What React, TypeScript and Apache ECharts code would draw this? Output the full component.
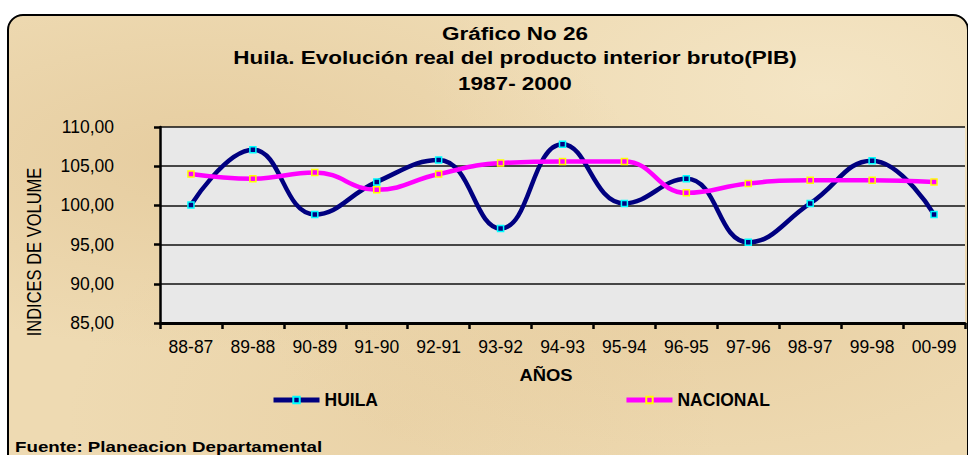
import React, { useEffect, useRef } from "react";
import * as echarts from "echarts";

const categories = ["88-87", "89-88", "90-89", "91-90", "92-91", "93-92", "94-93", "95-94", "96-95", "97-96", "98-97", "99-98", "00-99"];
const huila = [100.05, 107.1, 98.85, 103.0, 105.8, 97.05, 107.8, 100.25, 103.4, 95.3, 100.25, 105.7, 98.85];
const nacional = [104.0, 103.4, 104.2, 102.0, 104.0, 105.4, 105.6, 105.6, 101.6, 102.8, 103.2, 103.2, 103.0];
const seriesNames = ["HUILA", "NACIONAL"];
const yMin = 85;
const yMax = 110;
const yInterval = 5;
const titleLines = ["Gráfico No 26", "Huila. Evolución real del producto interior bruto(PIB)", "1987- 2000"];
const xAxisTitle = "AÑOS";
const yAxisTitle = "INDICES DE VOLUME";
const sourceNote = "Fuente: Planeacion Departamental";

const FONT = "'Liberation Sans', Arial, sans-serif";

export default function App() {
  const ref = useRef<HTMLDivElement>(null);
  useEffect(() => {
    const chart = echarts.init(ref.current!, null, { renderer: "svg", width: 968, height: 455 });
    const titleY = [34, 58, 84];
    chart.setOption({
      animation: false,
      backgroundColor: "transparent",
      textStyle: { fontFamily: FONT },
      grid: {
        left: 160,
        right: 3,
        top: 127,
        bottom: 132,
        show: true,
        backgroundColor: "#e8e8e8",
        borderWidth: 0,
      },
      legend: {
        left: 266,
        top: 386,
        itemWidth: 46,
        itemHeight: 8,
        itemGap: 246,
        data: seriesNames,
        lineStyle: { width: 5 },
        textStyle: { fontFamily: FONT, fontSize: 17.5, fontWeight: "bold", color: "#000" },
      },
      xAxis: {
        type: "category",
        data: categories,
        boundaryGap: true,
        axisLine: { show: true, lineStyle: { color: "#000", width: 3 } },
        axisTick: { show: true, length: 6, lineStyle: { color: "#000", width: 2.5 }, alignWithLabel: false },
        axisLabel: { color: "#000", fontSize: 17.5, fontFamily: FONT, margin: 15, interval: 0 },
        splitLine: { show: false },
      },
      yAxis: {
        type: "value",
        min: yMin,
        max: yMax,
        interval: yInterval,
        axisLine: { show: true, lineStyle: { color: "#000", width: 2.5 } },
        axisTick: { show: true, length: 6, lineStyle: { color: "#000", width: 2.5 } },
        axisLabel: {
          color: "#000",
          fontSize: 17.5,
          fontFamily: FONT,
          margin: 46,
          formatter: (v: number) => v.toFixed(2).replace(".", ","),
        },
        splitLine: { show: true, lineStyle: { color: "#111", width: 1.5 } },
      },
      graphic: [
        ...titleLines.map((t, i) => ({
          type: "text",
          x: 515,
          y: titleY[i],
          scaleX: 1.25,
          style: {
            text: t,
            font: `bold 18px ${FONT}`,
            fill: "#000",
            textAlign: "center",
            textVerticalAlign: "middle",
          },
        })),
        {
          type: "text",
          x: 546,
          y: 375.5,
          scaleX: 1.15,
          style: { text: xAxisTitle, font: `bold 16px ${FONT}`, fill: "#000", textAlign: "center", textVerticalAlign: "middle" },
        },
        {
          type: "text",
          x: 34,
          y: 252,
          rotation: Math.PI / 2,
          scaleY: 1.2,
          style: { text: yAxisTitle, font: `16.5px ${FONT}`, fill: "#000", textAlign: "center", textVerticalAlign: "middle" },
        },
        {
          type: "text",
          x: 15,
          y: 447,
          scaleX: 1.25,
          style: { text: sourceNote, font: `bold 15px ${FONT}`, fill: "#000", textAlign: "left", textVerticalAlign: "middle" },
        },
      ],
      series: [
        {
          name: seriesNames[0],
          type: "line",
          data: huila,
          smooth: 0.45,
          symbol: "rect",
          symbolSize: 6,
          showSymbol: true,
          lineStyle: { color: "#000080", width: 4.5 },
          itemStyle: { color: "#000080", borderColor: "#00ffff", borderWidth: 1.5 },
        },
        {
          name: seriesNames[1],
          type: "line",
          data: nacional,
          smooth: 0.45,
          symbol: "rect",
          symbolSize: 6,
          showSymbol: true,
          lineStyle: { color: "#ff00ff", width: 4.5 },
          itemStyle: { color: "#ff00ff", borderColor: "#ffff00", borderWidth: 1.5 },
        },
      ],
    });
    return () => chart.dispose();
  }, []);

  return (
    <div style={{ position: "fixed", left: 0, top: 0, width: 968, height: 455, background: "#fff", overflow: "hidden" }}>
      <div
        style={{
          position: "absolute",
          left: 7,
          top: 14,
          width: 958,
          height: 480,
          border: "2px solid #000",
          borderRadius: 16,
          background:
            "radial-gradient(ellipse at 20% 30%, rgba(215,180,125,0.35), transparent 40%), radial-gradient(ellipse at 70% 60%, rgba(220,185,130,0.3), transparent 45%), radial-gradient(ellipse at 85% 15%, rgba(250,240,215,0.5), transparent 35%), radial-gradient(ellipse at 40% 85%, rgba(225,195,145,0.3), transparent 40%), #eedab2",
        }}
      />
      <div ref={ref} style={{ position: "absolute", left: 0, top: 0, width: 968, height: 455 }} />
    </div>
  );
}
